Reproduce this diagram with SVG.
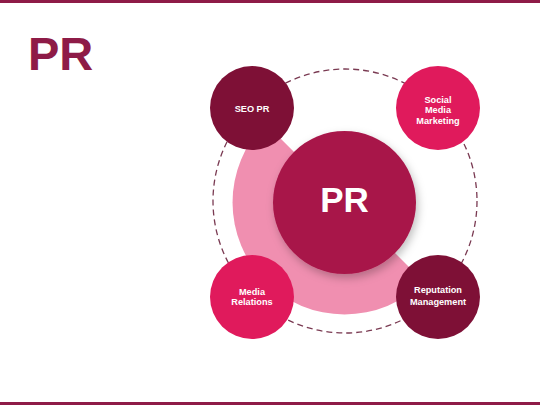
<svg xmlns="http://www.w3.org/2000/svg" width="540" height="405" viewBox="0 0 540 405">
<defs>
<style>
.lbl{font-family:"Liberation Sans",Arial,sans-serif;font-weight:bold;font-size:9.2px;fill:#fff;text-anchor:middle}
.dark{fill:#7E1036}
.hot{fill:#E01A5C}
</style>
<filter id="sh" x="-30%" y="-30%" width="160%" height="160%">
<feDropShadow dx="2" dy="4" stdDeviation="4" flood-color="#000" flood-opacity="0.25"/>
</filter>
</defs>
<rect width="540" height="405" fill="#fff"/>
<rect x="0" y="0" width="540" height="3" fill="#8E1B47"/>
<rect x="0" y="402" width="540" height="3" fill="#8E1B47"/>
<text x="28" y="70" font-family="Liberation Sans,Arial,sans-serif" font-weight="bold" font-size="47" fill="#8E1B47">PR</text>
<g id="connectors">
<circle cx="345" cy="201" r="132" fill="none" stroke="#7A3A52" stroke-width="1.3" stroke-dasharray="6 4"/>
</g>
<g id="ring">
<path d="M 423.7 281.7 A 112 112 0 0 1 265.3 123.3 Z" fill="#F08FB0"/>
</g>
<g id="pr">
<circle cx="344.5" cy="202.5" r="71.5" fill="#A8164A" filter="url(#sh)"/>
<text x="344.5" y="212" font-family="Liberation Sans,Arial,sans-serif" font-weight="bold" font-size="35" fill="#fff" text-anchor="middle">PR</text>
</g>
<g id="seo">
<circle cx="252" cy="108" r="42" class="dark"/>
<text x="252" y="111.5" class="lbl">SEO PR</text>
</g>
<g id="social">
<circle cx="438" cy="108" r="42" class="hot"/>
<text x="438" y="102.5" class="lbl">Social</text>
<text x="438" y="113" class="lbl">Media</text>
<text x="438" y="123.5" class="lbl">Marketing</text>
</g>
<g id="media">
<circle cx="252" cy="297" r="42" class="hot"/>
<text x="252" y="294.5" class="lbl">Media</text>
<text x="252" y="305" class="lbl">Relations</text>
</g>
<g id="reputation">
<circle cx="438" cy="297" r="42" class="dark"/>
<text x="438" y="293" class="lbl">Reputation</text>
<text x="438" y="305" class="lbl">Management</text>
</g>
</svg>
